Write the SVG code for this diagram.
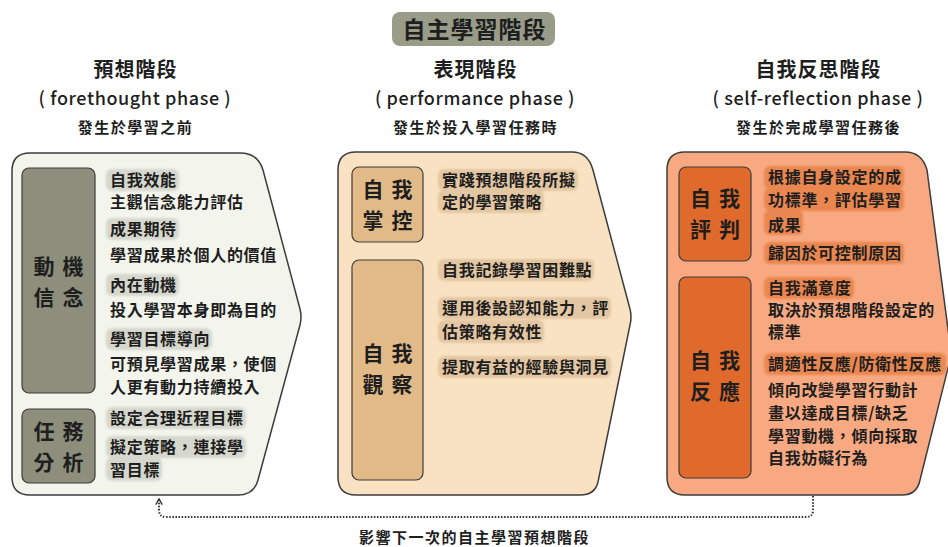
<svg xmlns="http://www.w3.org/2000/svg" width="948" height="547" viewBox="0 0 948 547">
<defs>
<style>
text{font-family:"Noto Sans CJK TC","Noto Sans CJK SC",sans-serif;fill:#1e1e1e}
.t{font-size:16px;font-weight:700;letter-spacing:0.7px}
.lbl{font-size:21px;font-weight:700;letter-spacing:8px;text-anchor:middle}
.ph{font-size:20px;font-weight:700;letter-spacing:1px;text-anchor:middle}
.en{font-size:18px;font-weight:500;letter-spacing:0.6px;text-anchor:middle}
.sub{font-size:15px;font-weight:700;letter-spacing:1.5px;text-anchor:middle}
.outer{stroke:#3c3c3c;stroke-width:1.5}
.box{stroke:#3c3c3c;stroke-width:1.2}
.hl1{fill:#d6d7cd}
.hl2{fill:#e3c6a2}
.hl3{fill:#ea8650}
.conn{fill:none;stroke:#333333;stroke-width:2;stroke-dasharray:1.5 1.6}
</style>
<filter id="soft" x="-10%" y="-30%" width="120%" height="160%"><feGaussianBlur stdDeviation="0.8"/></filter>
<marker id="chev" viewBox="0 0 10 10" refX="8" refY="5" markerWidth="8" markerHeight="8" orient="auto" markerUnits="userSpaceOnUse">
<path d="M1,1 L8,5 L1,9" fill="none" stroke="#333333" stroke-width="1.8"/>
</marker>
</defs>
<rect width="948" height="547" fill="#ffffff"/>

<g id="title">
<rect x="392" y="12" width="163" height="34" rx="8" fill="#999c88"/>
<text x="474.5" y="37.5" style="font-size:23px;font-weight:700;letter-spacing:1px;text-anchor:middle">自主學習階段</text>
</g>

<g id="headers">
<text class="ph" x="135.5" y="77">預想階段</text>
<text class="en" x="135" y="105">( forethought phase )</text>
<text class="sub" x="135.5" y="133">發生於學習之前</text>
<text class="ph" x="475.5" y="77">表現階段</text>
<text class="en" x="475" y="105">( performance phase )</text>
<text class="sub" x="475.5" y="133">發生於投入學習任務時</text>
<text class="ph" x="818.5" y="77">自我反思階段</text>
<text class="en" x="818" y="105">( self-reflection phase )</text>
<text class="sub" x="818.5" y="133">發生於完成學習任務後</text>
</g>

<g id="forethought">
<path class="outer" fill="#f3f4ec" d="M30 153 H240 Q258 153 263 170 L300 309 Q302 317 300 325 L258 480 Q254 495 238 495 H30 Q12 495 12 477 V171 Q12 153 30 153 Z"/>
<rect class="box" x="22" y="168" width="73" height="225" rx="7" fill="#8d8f7c"/>
<rect class="box" x="22" y="409" width="73" height="74" rx="7" fill="#8d8f7c"/>
<text class="lbl"><tspan x="62.5" y="273.5">動機</tspan><tspan x="62.5" y="304.5">信念</tspan></text>
<text class="lbl"><tspan x="62.5" y="439">任務</tspan><tspan x="62.5" y="470">分析</tspan></text>
<g filter="url(#soft)">
<rect class="hl1" x="106" y="169" width="73" height="22" rx="6"/>
<rect class="hl1" x="106" y="218" width="73" height="22" rx="6"/>
<rect class="hl1" x="106" y="274" width="73" height="22" rx="6"/>
<rect class="hl1" x="106" y="328" width="106" height="22" rx="6"/>
<rect class="hl1" x="106" y="407" width="140" height="22" rx="6"/>
<rect class="hl1" x="106" y="436" width="140" height="22" rx="6"/>
<rect class="hl1" x="106" y="457" width="56" height="24" rx="6"/>
</g>
<text class="t" x="110" y="186">自我效能</text>
<text class="t" x="110" y="208">主觀信念能力評估</text>
<text class="t" x="110" y="235">成果期待</text>
<text class="t" x="110" y="261">學習成果於個人的價值</text>
<text class="t" x="110" y="291">內在動機</text>
<text class="t" x="110" y="316">投入學習本身即為目的</text>
<text class="t" x="110" y="345">學習目標導向</text>
<text class="t" x="110" y="370">可預見學習成果，使個</text>
<text class="t" x="110" y="393">人更有動力持續投入</text>
<text class="t" x="110" y="424">設定合理近程目標</text>
<text class="t" x="110" y="453">擬定策略，連接學</text>
<text class="t" x="110" y="476">習目標</text>
</g>

<g id="performance">
<path class="outer" fill="#f9e2c1" d="M356 152 H572 Q588 152 593 170 L630 309 Q632 317 630 325 L598 482 Q595 495 580 495 H356 Q338 495 338 477 V170 Q338 152 356 152 Z"/>
<rect class="box" x="352" y="167" width="71" height="75" rx="7" fill="#e2ba88"/>
<rect class="box" x="352" y="260" width="71" height="220" rx="7" fill="#e2ba88"/>
<text class="lbl"><tspan x="391.5" y="197">自我</tspan><tspan x="391.5" y="228">掌控</tspan></text>
<text class="lbl"><tspan x="391.5" y="361">自我</tspan><tspan x="391.5" y="392">觀察</tspan></text>
<g filter="url(#soft)">
<rect class="hl2" x="438" y="169" width="140" height="22" rx="6"/>
<rect class="hl2" x="438" y="190" width="106" height="23" rx="6"/>
<rect class="hl2" x="438" y="259" width="156" height="22" rx="6"/>
<rect class="hl2" x="438" y="297" width="173" height="22" rx="6"/>
<rect class="hl2" x="438" y="320" width="106" height="23" rx="6"/>
<rect class="hl2" x="438" y="356" width="173" height="22" rx="6"/>
</g>
<text class="t" x="442" y="186">實踐預想階段所擬</text>
<text class="t" x="442" y="208">定的學習策略</text>
<text class="t" x="442" y="276">自我記錄學習困難點</text>
<text class="t" x="442" y="314">運用後設認知能力，評</text>
<text class="t" x="442" y="338">估策略有效性</text>
<text class="t" x="442" y="373">提取有益的經驗與洞見</text>
</g>

<g id="selfreflection">
<path class="outer" fill="#f8a981" d="M685 152 H905 Q922 152 927 170 L950 344 Q951 352 950 360 L920 480 Q917 495 902 495 H685 Q667 495 667 477 V170 Q667 152 685 152 Z"/>
<rect class="box" x="679" y="167" width="72" height="94" rx="7" fill="#df6a2c"/>
<rect class="box" x="679" y="277" width="72" height="201" rx="7" fill="#df6a2c"/>
<text class="lbl"><tspan x="719" y="206">自我</tspan><tspan x="719" y="237">評判</tspan></text>
<text class="lbl"><tspan x="719" y="368">自我</tspan><tspan x="719" y="399">反應</tspan></text>
<g filter="url(#soft)">
<rect class="hl3" x="764" y="166" width="140" height="23" rx="6"/>
<rect class="hl3" x="764" y="188" width="140" height="23" rx="6"/>
<rect class="hl3" x="764" y="210" width="39" height="25" rx="6"/>
<rect class="hl3" x="764" y="242" width="140" height="22" rx="6"/>
<rect class="hl3" x="764" y="277" width="90" height="22" rx="6"/>
<rect class="hl3" x="764" y="353" width="182" height="22" rx="6"/>
</g>
<text class="t" x="768" y="183">根據自身設定的成</text>
<text class="t" x="768" y="206">功標準，評估學習</text>
<text class="t" x="768" y="231">成果</text>
<text class="t" x="768" y="259">歸因於可控制原因</text>
<text class="t" x="768" y="294">自我滿意度</text>
<text class="t" x="768" y="316">取決於預想階段設定的</text>
<text class="t" x="768" y="338">標準</text>
<text class="t" x="768" y="370">調適性反應/防衛性反應</text>
<text class="t" x="768" y="396">傾向改變學習行動計</text>
<text class="t" x="768" y="419">畫以達成目標/缺乏</text>
<text class="t" x="768" y="442">學習動機，傾向採取</text>
<text class="t" x="768" y="464">自我妨礙行為</text>
</g>

<g id="connectors">
<path class="conn" d="M813 496 V510 Q813 517 806 517 H166 Q159 517 159 510 V499" marker-end="url(#chev)"/>
<text x="474.5" y="543" style="font-size:15px;font-weight:700;letter-spacing:1.5px;text-anchor:middle">影響下一次的自主學習預想階段</text>
</g>
</svg>
